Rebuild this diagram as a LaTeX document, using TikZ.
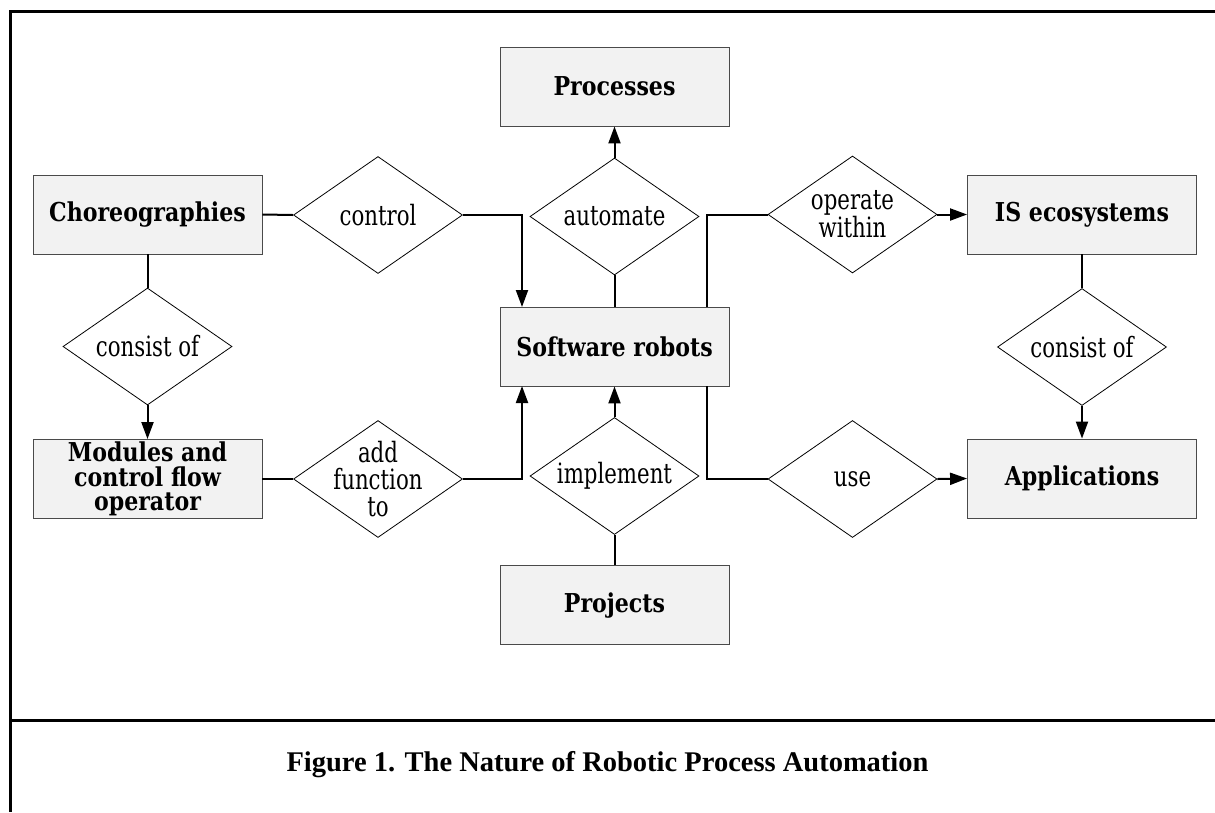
\documentclass[tikz,border=0pt]{standalone}
\usepackage{fontspec}
\usetikzlibrary{shapes.geometric,arrows.meta}
\newfontfamily\boxfnt[FakeStretch=0.85]{DejaVu Serif}
\newfontfamily\relfnt[FakeStretch=0.76]{DejaVu Serif}
\newfontfamily\capfnt{Liberation Serif}
\definecolor{boxfill}{HTML}{F2F2F2}
\definecolor{boxline}{HTML}{4A4A4A}
\begin{document}
\begin{tikzpicture}[x=1pt,y=-1pt,
  entity/.style={draw=boxline,fill=boxfill,line width=0.9pt,minimum width=229pt,minimum height=79pt,inner sep=2pt,align=center,font=\boxfnt\bfseries\fontsize{26}{24.5}\selectfont},
  rel/.style={draw=black,shape=diamond,line width=0.8pt,minimum width=169pt,minimum height=117pt,aspect=1.44,inner sep=0pt},
  reltext/.style={inner sep=0pt,align=center,font=\relfnt\fontsize{28}{27}\selectfont},
  conn/.style={line width=2pt,black},
  arr/.style={conn,-{Triangle[length=17pt,width=12pt]}},
  frame/.style={line width=3pt,black}]
\useasboundingbox (0,0) rectangle (1215,812);
% frame
\coordinate (fTL) at (10,11);
\coordinate (fTR) at (1215,11);
\coordinate (fBL) at (10,812);
\coordinate (dL) at (10,720);
\coordinate (dR) at (1215,720);
\draw[frame] (fTR) -- (fTL) -- (fBL);
\draw[frame] (dL) -- (dR);
% entities
\node[entity] (proc) at (614.5,86.5) {Processes};
\node[entity] (chor) at (147.5,214.5) {Choreographies};
\node[entity] (sr) at (614.5,346.5) {Software robots};
\node[entity] (mod) at (147.5,479) {Modules and\\control flow\\operator};
\node[entity] (proj) at (614.5,605) {Projects};
\node[entity] (is) at (1082,214.5) {IS ecosystems};
\node[entity] (app) at (1082,478.5) {Applications};
% relationships
\node[rel] (autom) at (614.5,216.5) {};
\node[rel] (ctrl) at (378,215) {};
\node[rel] (consL) at (147.5,346.5) {};
\node[rel] (addf) at (378,479) {};
\node[rel] (impl) at (614.5,476) {};
\node[rel] (oper) at (852.5,214.5) {};
\node[rel] (consR) at (1082,347) {};
\node[rel] (use) at (852.5,479) {};
\node[reltext] (automT) at (autom) {automate};
\node[reltext] (ctrlT) at (ctrl) {control};
\node[reltext] (consLT) at (consL) {consist of};
\node[reltext] (addfT) at (addf) {add\\function\\to};
\node[reltext] (implT) at (impl) {implement};
\node[reltext] (operT) at (oper) {operate\\within};
\node[reltext] (consRT) at (consR) {consist of};
\node[reltext] (useT) at (use) {use};
% connector anchors on Software robots
\coordinate (srTL) at (522,307);
\coordinate (srBL) at (522,386);
\coordinate (srTR) at (707,307);
\coordinate (srBR) at (707,386);
% connectors
\draw[arr] (autom.north) -- (proc.south);
\draw[conn] (sr.north) -- (autom.south);
\draw[conn] (chor.east) -- (ctrl.west);
\draw[arr] (ctrl.east) -| (srTL);
\draw[conn] (chor.south) -- (consL.north);
\draw[arr] (consL.south) -- (mod.north);
\draw[conn] (mod.east) -- (addf.west);
\draw[arr] (addf.east) -| (srBL);
\draw[arr] (impl.north) -- (sr.south);
\draw[conn] (proj.north) -- (impl.south);
\draw[conn] (srTR) |- (oper.west);
\draw[arr] (oper.east) -- (is.west);
\draw[conn] (srBR) |- (use.west);
\draw[arr] (use.east) -- (app.west);
\draw[conn] (is.south) -- (consR.north);
\draw[arr] (consR.south) -- (app.north);
% caption
\node[anchor=base,inner sep=0pt,font=\capfnt\bfseries\fontsize{28.5}{32}\selectfont] (cap) at (607.5,771) {Figure 1. The Nature of Robotic Process Automation};
\end{tikzpicture}
\end{document}
